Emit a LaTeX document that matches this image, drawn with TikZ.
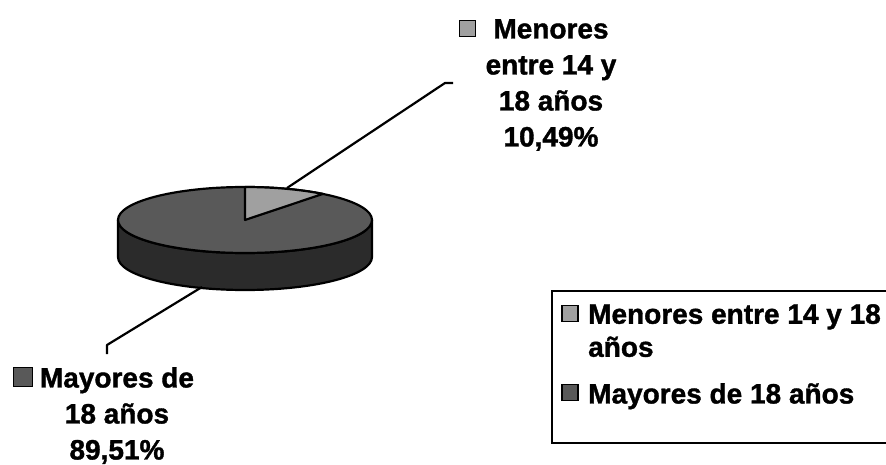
\documentclass[tikz,border=0pt]{standalone}
\usepackage{fontspec}
\setmainfont{Liberation Sans}[BoldFeatures={FakeBold=1.3}]
\usepackage{tikz}
\usetikzlibrary{positioning}
\definecolor{slicelight}{HTML}{A0A0A0}
\definecolor{slicedark}{HTML}{595959}
\definecolor{sidedark}{HTML}{2B2B2B}
\tikzset{
    lbl/.style={font=\fontsize{28}{36}\selectfont\bfseries, align=center, inner sep=0pt},
    keybox/.style={draw, line width=1.8pt, minimum size=16pt, inner sep=0pt},
    pieline/.style={line width=2.2pt, line join=round},
}

\begin{document}
\begin{tikzpicture}[x=1pt,y=1pt]
    \useasboundingbox (0,0) rectangle (886,464);
    \clip (0,0) rectangle (886,464);
    % pie body
    \filldraw[pieline, fill=sidedark] (118,244) -- (118,207)
        arc[start angle=180, end angle=360, x radius=127, y radius=33]
        -- (372,244) arc[start angle=0, end angle=-180, x radius=127, y radius=33] -- cycle;
    \filldraw[pieline, fill=slicedark] (245,244) ellipse[x radius=127, y radius=33];
    \filldraw[pieline, fill=slicelight] (245,244) -- (245,277)
        arc[start angle=90, end angle=52.2, x radius=127, y radius=33] -- cycle;
    % leader lines
    \coordinate (menpt) at (287,276);
    \coordinate (menbend) at (445,381);
    \coordinate (menend) at (453,381);
    \coordinate (maypt) at (202,177);
    \coordinate (maybend) at (107,119);
    \coordinate (mayend) at (107,110);
    \draw[pieline] (menpt) -- (menbend) -- (menend);
    \draw[pieline] (maypt) -- (maybend) -- (mayend);
    % data labels
    \node[lbl, anchor=north] (menlbl) at (551,445) {Menores\\entre 14 y\\18 años\\10,49\%};
    \node[keybox, fill=slicelight] (menkey) at (467.5,435.5) {};
    \node[lbl, anchor=north] (maylbl) at (117,97) {Mayores de\\18 años\\89,51\%};
    \node[keybox, fill=slicedark, minimum size=19pt] (maykey) at (23,87) {};
    % legend
    \draw[line width=1.8pt] (552,173) rectangle (900,21);
    \node[lbl, align=left, anchor=north west, font=\fontsize{28}{33}\selectfont\bfseries] (leg1) at (588,160) {Menores entre 14 y 18\\años};
    \node[keybox, fill=slicelight] (legkey1) at (570,150.5) {};
    \node[lbl, anchor=north west] (leg2) at (588,81) {Mayores de 18 años};
    \node[keybox, fill=slicedark] (legkey2) at (570,71.5) {};
\end{tikzpicture}
\end{document}
